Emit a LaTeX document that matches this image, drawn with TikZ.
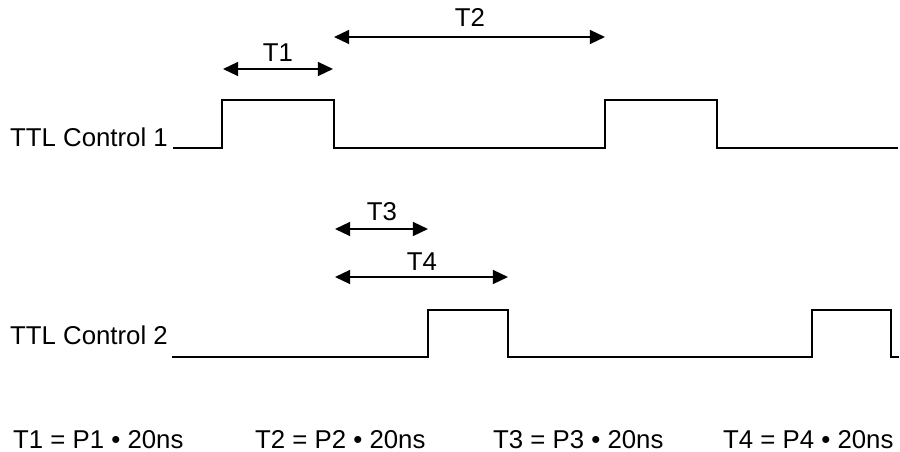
\documentclass[tikz,border=0pt]{standalone}
\usepackage{fontspec}
\setmainfont{Liberation Sans}
\usepackage{tikz}
\usetikzlibrary{arrows.meta, positioning}

\begin{document}
\begin{tikzpicture}[
        x=0.03cm, y=-0.03cm,
        every node/.style={font=\fontsize{22}{24}\selectfont, inner sep=0pt},
        wave/.style={line width=1.6pt, line join=miter},
        span/.style={{Triangle[length=13pt, width=12pt]}-{Triangle[length=13pt, width=12pt]}, line width=1.5pt},
        lbl/.style={anchor=base}
      ]
        \useasboundingbox (0,0) rectangle (900,452);

        % signal names
        \node[anchor=base east] (ttl1) at (168,146) {TTL Control 1};
        \node[anchor=base east] (ttl2) at (168,344) {TTL Control 2};

        % waveforms
        \draw[wave] (173,148) -- (222,148) -- (222,100) -- (334,100) -- (334,148)
                    -- (605,148) -- (605,100) -- (717,100) -- (717,148) -- (898,148);
        \draw[wave] (172,357) -- (428,357) -- (428,310) -- (508,310) -- (508,357)
                    -- (812,357) -- (812,310) -- (891,310) -- (891,357) -- (899,357);

        % timing marks
        \coordinate (t1a) at (223,69);
        \coordinate (t1b) at (333,69);
        \coordinate (t2a) at (334,37);
        \coordinate (t2b) at (605,37);
        \coordinate (t3a) at (335,229);
        \coordinate (t3b) at (428,229);
        \coordinate (t4a) at (335,277);
        \coordinate (t4b) at (508,277);

        \draw[span] (t1a) -- (t1b);
        \draw[span] (t2a) -- (t2b);
        \draw[span] (t3a) -- (t3b);
        \draw[span] (t4a) -- (t4b);

        \node[lbl] (T1) at (278,62) {T1};
        \node[lbl] (T2) at (470,27) {T2};
        \node[lbl] (T3) at (382,220) {T3};
        \node[lbl] (T4) at (422,270) {T4};

        % relations
        \node[anchor=base west] (eq1) at (13,448) {T1 = P1 \textbullet\ 20ns};
        \node[anchor=base west] (eq2) at (255,448) {T2 = P2 \textbullet\ 20ns};
        \node[anchor=base west] (eq3) at (493,448) {T3 = P3 \textbullet\ 20ns};
        \node[anchor=base west] (eq4) at (723,448) {T4 = P4 \textbullet\ 20ns};
\end{tikzpicture}
\end{document}
